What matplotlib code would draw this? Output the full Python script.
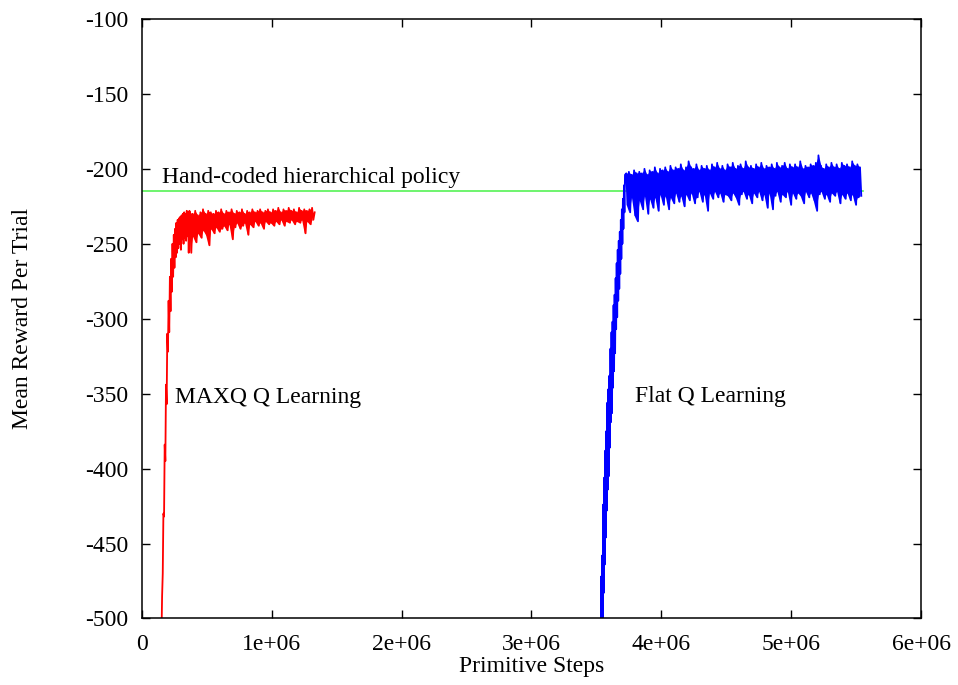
import numpy as np
import matplotlib
matplotlib.use("Agg")
import matplotlib.pyplot as plt

# --- DATA ---
# MAXQ Q learning: steep rise, then noisy plateau
maxq_rise_steps = np.arange(0.150e6, 0.3651e6, 0.005e6)
maxq_rise_reward = [
    -512, -485, -470, -430, -432, -384, -395, -344, -357, -310,
    -322, -288, -309, -272, -295, -260, -282, -250, -272, -244,
    -266, -240, -259, -236, -256, -234, -253, -233, -250, -232,
    -254, -231, -247, -230, -250, -229, -246, -230, -248, -228,
    -245, -229, -256, -228,
]
maxq_plateau_steps = np.arange(0.37e6, 1.3351e6, 0.01e6)
maxq_plateau_reward = [
    -229, -256, -230, -245, -228, -249, -231, -243, -229, -246,
    -227, -241, -230, -244, -228, -251, -229, -240, -230, -243,
    -228, -239, -229, -242, -227, -240, -230, -238, -228, -241,
    -229, -237, -227, -247, -230, -239, -228, -236, -229, -240,
    -227, -238, -230, -236, -228, -244, -229, -237, -227, -239,
    -229, -235, -228, -238, -227, -236, -229, -240, -228, -235,
    -227, -237, -229, -236, -227, -238, -228, -235, -226, -237,
    -229, -234, -227, -238, -228, -235, -226, -236, -228, -234,
    -227, -237, -229, -235, -226, -236, -228, -234, -227, -243,
    -228, -235, -227, -237, -226, -234, -229,
]

# Flat Q learning: late rise, then noisy plateau
flat_rise_steps = np.arange(3.520e6, 3.7201e6, 0.004e6)
flat_rise_reward = [
    -529, -577, -501, -554, -472, -535, -458, -506, -424, -483,
    -406, -464, -388, -446, -375, -428, -356, -414, -347, -405,
    -338, -386, -320, -369, -309, -363, -302, -346, -291, -335,
    -284, -323, -273, -307, -263, -299, -254, -288, -248, -280,
    -242, -270, -234, -260, -227, -250, -220, -240, -211, -229,
    -204,
]
flat_plateau_steps = np.arange(3.73e6, 5.5401e6, 0.01e6)
flat_plateau_reward = [
    -203, -224, -202, -229, -204, -219, -201, -231, -203, -235,
    -202, -221, -203, -227, -200, -218, -204, -230, -201, -220,
    -202, -226, -199, -219, -203, -228, -200, -217, -201, -224,
    -199, -218, -202, -227, -198, -219, -201, -223, -199, -216,
    -200, -222, -197, -218, -201, -225, -199, -217, -195, -221,
    -199, -216, -200, -223, -197, -219, -201, -215, -198, -222,
    -200, -217, -198, -228, -201, -216, -197, -220, -199, -215,
    -196, -219, -200, -216, -198, -222, -201, -217, -197, -218,
    -199, -221, -196, -216, -200, -219, -198, -224, -197, -217,
    -200, -215, -195, -220, -199, -217, -198, -223, -200, -216,
    -197, -219, -199, -215, -196, -221, -200, -217, -198, -226,
    -199, -216, -197, -227, -200, -218, -196, -215, -199, -222,
    -198, -217, -196, -219, -200, -215, -197, -224, -199, -216,
    -197, -220, -199, -216, -195, -218, -200, -223, -198, -215,
    -199, -219, -197, -216, -198, -221, -196, -228, -191, -217,
    -198, -215, -200, -220, -197, -217, -199, -222, -196, -216,
    -199, -218, -197, -215, -200, -223, -196, -217, -198, -220,
    -197, -216, -199, -221, -195, -217, -198, -224, -197, -219,
    -199, -218,
]

# Hand-coded hierarchical policy (flat reference line)
hand_steps = [0, 5.55e6]
hand_reward = [-214.5, -214.5]

x_ticks = [0, 1e6, 2e6, 3e6, 4e6, 5e6, 6e6]
x_tick_labels = ["0", "1e+06", "2e+06", "3e+06", "4e+06", "5e+06", "6e+06"]
y_ticks = [-500, -450, -400, -350, -300, -250, -200, -150, -100]

plt.rcParams["font.family"] = ["Liberation Serif", "DejaVu Serif"]
plt.rcParams["font.size"] = 17
plt.rcParams["axes.unicode_minus"] = False


def draw_noisy(ax, rise_x, rise_y, plat_x, plat_y, color):
    """Rise drawn as a line, plateau as a filled band between the
    alternating high/low readings plus the zigzag line itself."""
    x = np.concatenate([rise_x, plat_x])
    y = np.concatenate([rise_y, plat_y])
    ax.plot(x, y, color=color, linewidth=1.3, zorder=2)
    plat_y = np.asarray(plat_y, dtype=float)
    n = len(plat_y) // 2
    highs = plat_y[0::2][:n]
    lows = plat_y[1::2][:n]
    xs = np.asarray(plat_x)[0::2][:n]
    ax.fill_between(xs, highs, lows, color=color, linewidth=0, zorder=2)


fig = plt.figure(figsize=(9.58, 6.85), dpi=100)
ax = fig.add_axes([0.1482, 0.0971, 0.9614 - 0.1482, 0.9723 - 0.0971])

ax.plot(hand_steps, hand_reward, color="#55f255", linewidth=1.2, zorder=1)

draw_noisy(ax, maxq_rise_steps, maxq_rise_reward,
           maxq_plateau_steps, maxq_plateau_reward, "#ff0000")
draw_noisy(ax, flat_rise_steps, flat_rise_reward,
           flat_plateau_steps, flat_plateau_reward, "#0000ff")

ax.text(0.154e6, -209.5, "Hand-coded hierarchical policy", va="baseline", ha="left")
ax.text(0.254e6, -356.2, "MAXQ Q Learning", va="baseline", ha="left")
ax.text(3.798e6, -355.5, "Flat Q Learning", va="baseline", ha="left")

ax.set_xlim(0, 6e6)
ax.set_ylim(-500, -100)
ax.set_xticks(x_ticks)
ax.set_xticklabels(x_tick_labels)
ax.set_yticks(y_ticks)
ax.tick_params(direction="in", length=6, width=1.0, top=True, right=True)
ax.tick_params(axis="x", pad=11)
ax.tick_params(axis="y", pad=10)
for s in ax.spines.values():
    s.set_linewidth(1.1)

ax.set_xlabel("Primitive Steps")
ax.set_ylabel("Mean Reward Per Trial")
ax.xaxis.set_label_coords(0.5, -0.062)
ax.yaxis.set_label_coords(-0.140, 0.5)

fig.savefig("out.png", dpi=100)
